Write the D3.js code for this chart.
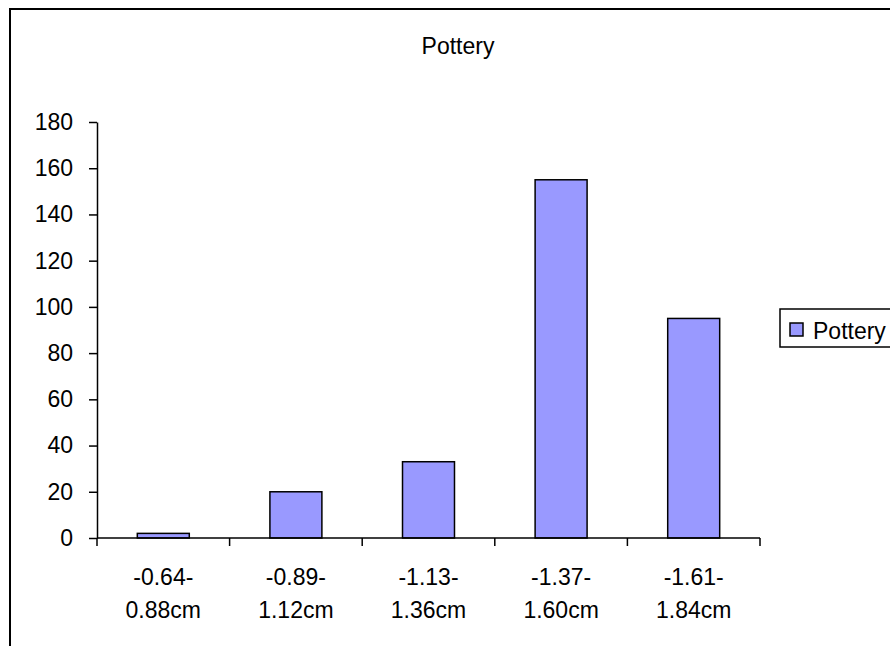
<!DOCTYPE html>
<html>
<head>
<meta charset="utf-8">
<script src="https://cdn.jsdelivr.net/npm/d3@7"></script>
<style>
  html, body { margin: 0; padding: 0; background: #fff; }
  svg { display: block; font-family: Arial, "Liberation Sans", sans-serif; }
</style>
</head>
<body>
<svg id="chart" width="890" height="646"></svg>
<script>
// Size classes (two-line labels) and counts of pottery sherds
const categories = [
  ["-0.64-", "0.88cm"],
  ["-0.89-", "1.12cm"],
  ["-1.13-", "1.36cm"],
  ["-1.37-", "1.60cm"],
  ["-1.61-", "1.84cm"]
];
const potteryCounts = [2, 20, 33, 155, 95];
const yTicks = [0, 20, 40, 60, 80, 100, 120, 140, 160, 180];
const seriesName = "Pottery";
const chartTitle = "Pottery";

const fontSize = 23;
const svg = d3.select("#chart");
const plot = { left: 97, right: 760, top: 122, bottom: 538 };

// Outer chart frame (runs off the right and bottom edges)
svg.append("rect")
  .attr("x", 10).attr("y", 9)
  .attr("width", 900).attr("height", 660)
  .attr("fill", "#fff").attr("stroke", "#000").attr("stroke-width", 2);

svg.append("text")
  .attr("x", 458).attr("y", 54)
  .attr("text-anchor", "middle")
  .attr("font-size", fontSize)
  .text(chartTitle);

const keys = categories.map(c => c.join(" "));
const x = d3.scaleBand()
  .domain(keys)
  .range([plot.left, plot.right])
  .paddingInner(0.608)
  .paddingOuter(0.304);

const y = d3.scaleLinear()
  .domain([0, 180])
  .range([plot.bottom, plot.top]);

// Y axis
const yAxis = svg.append("g")
  .attr("transform", `translate(${plot.left},0)`)
  .call(d3.axisLeft(y).tickValues(yTicks).tickSize(8).tickPadding(16).tickSizeOuter(0));
yAxis.select(".domain").attr("stroke", "#000").attr("stroke-width", 1.5);
yAxis.selectAll(".tick line").attr("stroke", "#000").attr("stroke-width", 1.5);
yAxis.selectAll(".tick text")
  .attr("font-size", fontSize).attr("fill", "#000")
  .attr("font-family", "Arial, 'Liberation Sans', sans-serif");

// Bars
svg.append("g").selectAll("rect")
  .data(potteryCounts)
  .join("rect")
  .attr("x", (d, i) => x(keys[i]))
  .attr("y", d => y(d))
  .attr("width", x.bandwidth())
  .attr("height", d => y(0) - y(d))
  .attr("fill", "#9999FF")
  .attr("stroke", "#000")
  .attr("stroke-width", 1.5);

// X axis line with ticks on the category boundaries
const gap = x.step() - x.bandwidth();
const bounds = keys.map(k => x(k) - gap / 2).concat([plot.right]);
const xAxis = svg.append("g");
xAxis.append("line")
  .attr("x1", plot.left).attr("x2", plot.right)
  .attr("y1", y(0)).attr("y2", y(0))
  .attr("stroke", "#000").attr("stroke-width", 1.5);
xAxis.selectAll("line.tick")
  .data(bounds)
  .join("line")
  .attr("class", "tick")
  .attr("x1", d => d).attr("x2", d => d)
  .attr("y1", y(0)).attr("y2", y(0) + 8)
  .attr("stroke", "#000").attr("stroke-width", 1.5);

// Two-line category labels
const labels = xAxis.selectAll("text")
  .data(categories)
  .join("text")
  .attr("text-anchor", "middle")
  .attr("font-size", fontSize);
labels.each(function(d, i) {
  const cx = x(keys[i]) + x.bandwidth() / 2;
  d3.select(this).selectAll("tspan")
    .data(d)
    .join("tspan")
    .attr("x", cx)
    .attr("y", (t, j) => 585 + j * 33)
    .text(t => t);
});

// Legend
const legend = svg.append("g");
legend.append("rect")
  .attr("x", 780).attr("y", 309)
  .attr("width", 130).attr("height", 38)
  .attr("fill", "#fff").attr("stroke", "#000").attr("stroke-width", 1.5);
legend.append("rect")
  .attr("x", 790).attr("y", 323)
  .attr("width", 13).attr("height", 13)
  .attr("fill", "#9999FF").attr("stroke", "#000").attr("stroke-width", 1.5);
legend.append("text")
  .attr("x", 813).attr("y", 339)
  .attr("font-size", fontSize)
  .text(seriesName);
</script>
</body>
</html>
